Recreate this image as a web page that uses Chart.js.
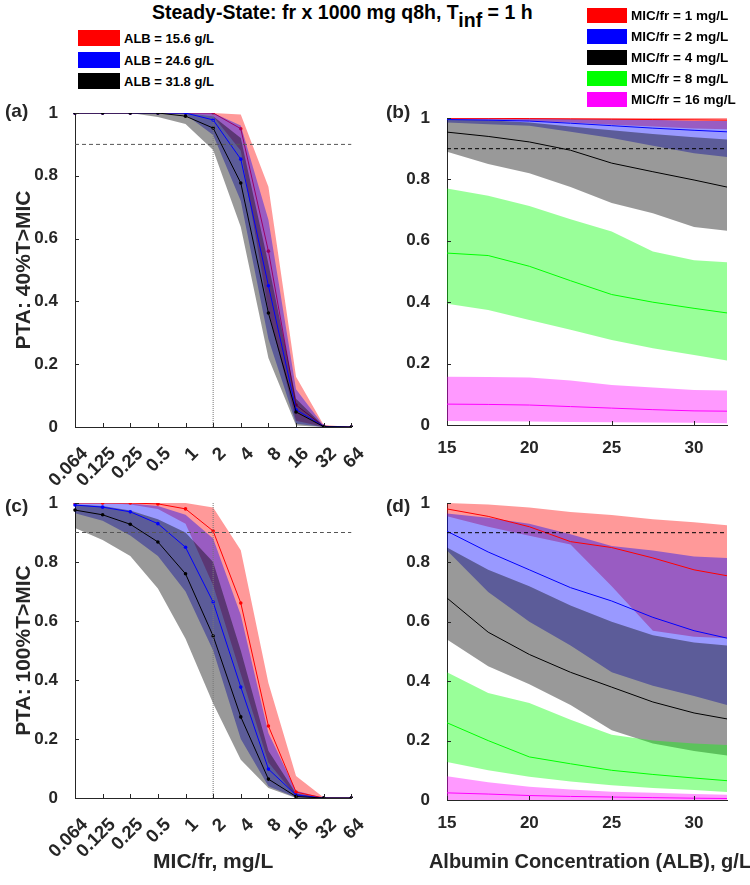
<!DOCTYPE html>
<html>
<head>
<meta charset="utf-8">
<script src="https://cdn.jsdelivr.net/npm/chart.js@4.4.1/dist/chart.umd.min.js"></script>
<style>
  body { margin: 0; width: 750px; height: 885px; background: #fff; position: relative; overflow: hidden;
         font-family: 'Liberation Sans', Arial, sans-serif; font-weight: bold; color: #262626; }
  canvas { position: absolute; }
  .txt { position: absolute; white-space: nowrap; line-height: 1; }
  .box { position: absolute; }
</style>
</head>
<body>
<canvas id="chartA" width="375" height="410" style="left:0;top:90px"></canvas>
<canvas id="chartB" width="375" height="410" style="left:375px;top:90px"></canvas>
<canvas id="chartC" width="375" height="405" style="left:0;top:480px"></canvas>
<canvas id="chartD" width="375" height="405" style="left:375px;top:480px"></canvas>

<div class="txt" style="left:152px;top:3px;font-size:19.5px;color:#000">Steady-State: fr x 1000 mg q8h, T<span style="position:relative;top:8px">inf</span> = 1 h</div>

<div class="box" style="left:78px;top:30px;width:42px;height:16px;background:#ff0000"></div>
<div class="txt" style="left:124px;top:32px;font-size:13px;color:#000">ALB = 15.6 g/L</div>
<div class="box" style="left:78px;top:52px;width:42px;height:16px;background:#0000ff"></div>
<div class="txt" style="left:124px;top:54px;font-size:13px;color:#000">ALB = 24.6 g/L</div>
<div class="box" style="left:78px;top:73px;width:42px;height:16px;background:#000000"></div>
<div class="txt" style="left:124px;top:75px;font-size:13px;color:#000">ALB = 31.8 g/L</div>

<div class="box" style="left:587px;top:8px;width:40px;height:15px;background:#ff0000"></div>
<div class="txt" style="left:631px;top:9px;font-size:13.5px;color:#000">MIC/fr = 1 mg/L</div>
<div class="box" style="left:587px;top:29px;width:40px;height:15px;background:#0000ff"></div>
<div class="txt" style="left:631px;top:30px;font-size:13.5px;color:#000">MIC/fr = 2 mg/L</div>
<div class="box" style="left:587px;top:50px;width:40px;height:15px;background:#000000"></div>
<div class="txt" style="left:631px;top:51px;font-size:13.5px;color:#000">MIC/fr = 4 mg/L</div>
<div class="box" style="left:587px;top:71px;width:40px;height:15px;background:#00ff00"></div>
<div class="txt" style="left:631px;top:72px;font-size:13.5px;color:#000">MIC/fr = 8 mg/L</div>
<div class="box" style="left:587px;top:92px;width:40px;height:15px;background:#ff00ff"></div>
<div class="txt" style="left:631px;top:93px;font-size:13.5px;color:#000">MIC/fr = 16 mg/L</div>

<div class="txt" style="left:5px;top:101px;font-size:19px">(a)</div>
<div class="txt" style="left:386px;top:102px;font-size:19px">(b)</div>
<div class="txt" style="left:5px;top:496px;font-size:19px">(c)</div>
<div class="txt" style="left:386px;top:496px;font-size:19px">(d)</div>

<div class="txt" style="left:590px;top:851px;font-size:20px;transform:translateX(-50%)">Albumin Concentration (ALB), g/L</div>

<script>
// shared axes
const micLabels = ['0.064', '0.125', '0.25', '0.5', '1', '2', '4', '8', '16', '32', '64'];
const albPoints = [15, 17.5, 20, 22.5, 25, 27.5, 30, 32];
const yTicks = [0, 0.2, 0.4, 0.6, 0.8, 1];
const albTicks = [15, 20, 25, 30];
const ptaTarget = 0.9;
const micBreak = '2';

// (a) 40%T>MIC vs MIC/fr, one curve per albumin level
const a15Med = [1, 1, 1, 1, 1, 1, 0.95, 0.56, 0.07, 0.002, 0];
const a15Hi  = [1, 1, 1, 1, 1, 1, 0.995, 0.765, 0.16, 0.006, 0];
const a15Lo  = [1, 1, 1, 1, 1, 0.99, 0.88, 0.37, 0.02, 0, 0];
const a24Med = [1, 1, 1, 1, 1, 0.978, 0.853, 0.45, 0.055, 0.002, 0];
const a24Hi  = [1, 1, 1, 1, 1, 1, 0.96, 0.66, 0.12, 0.004, 0];
const a24Lo  = [1, 1, 1, 1, 0.995, 0.93, 0.72, 0.28, 0.01, 0, 0];
const a31Med = [1, 1, 1, 1, 0.99, 0.952, 0.777, 0.363, 0.048, 0.001, 0];
const a31Hi  = [1, 1, 1, 1, 1, 0.99, 0.92, 0.52, 0.09, 0.003, 0];
const a31Lo  = [1, 1, 1, 0.987, 0.965, 0.882, 0.637, 0.22, 0.005, 0, 0];

// (c) 100%T>MIC vs MIC/fr
const c15Med = [1, 1, 1, 0.997, 0.98, 0.905, 0.661, 0.244, 0.02, 0, 0];
const c15Hi  = [1, 1, 1, 1, 1, 0.985, 0.84, 0.39, 0.075, 0.002, 0];
const c15Lo  = [1, 1, 0.995, 0.98, 0.93, 0.72, 0.42, 0.12, 0.005, 0, 0];
const c24Med = [0.993, 0.986, 0.97, 0.93, 0.85, 0.664, 0.376, 0.098, 0.01, 0, 0];
const c24Hi  = [1, 1, 0.998, 0.99, 0.96, 0.88, 0.62, 0.22, 0.025, 0, 0];
const c24Lo  = [0.965, 0.94, 0.89, 0.82, 0.7, 0.5, 0.2, 0.04, 0.002, 0, 0];
const c31Med = [0.976, 0.96, 0.928, 0.868, 0.76, 0.549, 0.275, 0.064, 0.005, 0, 0];
const c31Hi  = [0.995, 0.99, 0.975, 0.945, 0.9, 0.8, 0.5, 0.16, 0.015, 0, 0];
const c31Lo  = [0.915, 0.875, 0.82, 0.71, 0.54, 0.32, 0.13, 0.034, 0, 0, 0];

// (b) 40%T>MIC vs albumin, one curve per MIC
const b1Med  = [0.999, 0.999, 0.998, 0.997, 0.996, 0.995, 0.994, 0.993];
const b1Hi   = [1, 1, 1, 1, 1, 1, 1, 1];
const b1Lo   = [0.995, 0.993, 0.99, 0.985, 0.978, 0.972, 0.966, 0.963];
const b2Med  = [0.995, 0.993, 0.99, 0.983, 0.975, 0.967, 0.96, 0.955];
const b2Hi   = [0.999, 0.999, 0.998, 0.997, 0.996, 0.994, 0.99, 0.99];
const b2Lo   = [0.985, 0.98, 0.975, 0.955, 0.935, 0.91, 0.885, 0.873];
const b4Med  = [0.954, 0.94, 0.922, 0.895, 0.853, 0.825, 0.798, 0.775];
const b4Hi   = [0.995, 0.993, 0.985, 0.972, 0.96, 0.948, 0.937, 0.93];
const b4Lo   = [0.89, 0.85, 0.82, 0.775, 0.723, 0.69, 0.645, 0.633];
const b8Med  = [0.56, 0.552, 0.517, 0.47, 0.425, 0.4, 0.38, 0.365];
const b8Hi   = [0.77, 0.747, 0.713, 0.67, 0.63, 0.565, 0.537, 0.53];
const b8Lo   = [0.395, 0.375, 0.342, 0.31, 0.277, 0.25, 0.228, 0.21];
const b16Med = [0.068, 0.067, 0.065, 0.06, 0.055, 0.05, 0.046, 0.045];
const b16Hi  = [0.157, 0.156, 0.155, 0.145, 0.13, 0.122, 0.114, 0.112];
const b16Lo  = [0.013, 0.012, 0.011, 0.01, 0.009, 0.008, 0.007, 0.006];

// (d) 100%T>MIC vs albumin
const d1Med  = [0.98, 0.955, 0.92, 0.87, 0.85, 0.815, 0.775, 0.755];
const d1Hi   = [1, 0.995, 0.985, 0.97, 0.96, 0.945, 0.935, 0.925];
const d1Lo   = [0.955, 0.92, 0.89, 0.86, 0.72, 0.57, 0.55, 0.545];
const d2Med  = [0.905, 0.835, 0.775, 0.715, 0.67, 0.615, 0.57, 0.545];
const d2Hi   = [0.965, 0.95, 0.93, 0.895, 0.855, 0.84, 0.82, 0.815];
const d2Lo   = [0.84, 0.7, 0.6, 0.52, 0.43, 0.385, 0.35, 0.32];
const d4Med  = [0.68, 0.565, 0.49, 0.43, 0.38, 0.33, 0.293, 0.273];
const d4Hi   = [0.85, 0.775, 0.72, 0.655, 0.6, 0.555, 0.53, 0.52];
const d4Lo   = [0.54, 0.45, 0.39, 0.32, 0.235, 0.19, 0.165, 0.15];
const d8Med  = [0.26, 0.2, 0.145, 0.122, 0.1, 0.086, 0.074, 0.065];
const d8Hi   = [0.43, 0.36, 0.327, 0.27, 0.22, 0.2, 0.19, 0.185];
const d8Lo   = [0.128, 0.1, 0.078, 0.062, 0.05, 0.04, 0.034, 0.027];
const d16Med = [0.024, 0.02, 0.015, 0.012, 0.01, 0.008, 0.006, 0.005];
const d16Hi  = [0.08, 0.06, 0.045, 0.035, 0.028, 0.024, 0.02, 0.018];
const d16Lo  = [0, 0, 0, 0, 0, 0, 0, 0];

const RED = 'rgb(255,0,0)', BLUE = 'rgb(0,0,255)', BLACK = 'rgb(0,0,0)';
const GREEN = 'rgb(0,255,0)', MAGENTA = 'rgb(255,0,255)';
const AXIS = '#262626';
const FONT = "'Liberation Sans', Arial, sans-serif";

function alpha(c) {
  return c.replace('rgb(', 'rgba(').replace(')', ',0.4)');
}

function toPoints(xs, vals) {
  if (!xs) return vals;
  return vals.map((v, i) => ({ x: xs[i], y: v }));
}

// upper edge fills down to the lower edge that follows it
function band(color, hi, lo, xs, order) {
  return [
    { data: toPoints(xs, hi), borderWidth: 0, borderColor: 'transparent', backgroundColor: alpha(color),
      fill: '+1', pointRadius: 0, order: order },
    { data: toPoints(xs, lo), borderWidth: 0, borderColor: 'transparent', fill: false, pointRadius: 0, order: order },
  ];
}

function median(color, vals, xs, order, markers) {
  return {
    data: toPoints(xs, vals), borderColor: color, borderWidth: 1, fill: false,
    pointRadius: markers ? 1.8 : 0, pointBackgroundColor: color, pointBorderWidth: 0, order: order,
  };
}

function refLines(xs, dashColor) {
  const sets = [];
  if (xs) {
    sets.push({ data: [{ x: xs[0], y: ptaTarget }, { x: xs[xs.length - 1], y: ptaTarget }],
      borderColor: dashColor, borderWidth: 1, borderDash: [4, 3], pointRadius: 0, fill: false, order: 1 });
  } else {
    sets.push({ data: micLabels.map(() => ptaTarget), borderColor: dashColor, borderWidth: 1,
      borderDash: [4, 3], pointRadius: 0, fill: false, order: 1 });
    sets.push({ data: [{ x: micBreak, y: 0 }, { x: micBreak, y: 1 }], borderColor: '#777',
      borderWidth: 1, borderDash: [1, 1], pointRadius: 0, fill: false, order: 1 });
  }
  return sets;
}

const innerTicks = {
  id: 'innerTicks',
  afterDraw(chart) {
    const { ctx, chartArea: ca, scales } = chart;
    ctx.save();
    ctx.strokeStyle = AXIS;
    ctx.lineWidth = 1;
    ctx.beginPath();
    scales.x.ticks.forEach((t, i) => {
      const px = Math.round(scales.x.getPixelForTick(i)) + 0.5;
      ctx.moveTo(px, ca.bottom);
      ctx.lineTo(px, ca.bottom - 4);
    });
    scales.y.ticks.forEach((t, i) => {
      const py = Math.round(scales.y.getPixelForTick(i)) + 0.5;
      ctx.moveTo(ca.left, py);
      ctx.lineTo(ca.left + 4, py);
    });
    ctx.stroke();
    ctx.restore();
  },
};

function makeChart(id, datasets, opt) {
  const tickFont = { family: FONT, weight: 'bold', size: 17 };
  const rotFont = { family: FONT, weight: 'bold', size: 18.5 };
  const titleFont = { family: FONT, weight: 'bold', size: 21 };
  const xScale = opt.category
    ? { type: 'category', labels: micLabels, offset: false,
        ticks: { autoSkip: false, minRotation: 45, maxRotation: 45, labelOffset: 10, padding: 8, color: AXIS, font: rotFont } }
    : { type: 'linear', min: 15, max: 32,
        afterBuildTicks: (s) => { s.ticks = albTicks.map((v) => ({ value: v })); },
        ticks: { maxRotation: 0, padding: 5, color: AXIS, font: tickFont } };
  xScale.grid = { display: false };
  xScale.border = { color: AXIS, width: 1 };
  xScale.afterFit = (s) => { s.height = opt.xHeight; };
  if (opt.xTitle) {
    xScale.title = { display: true, text: opt.xTitle, color: AXIS, font: titleFont, padding: { top: 0, bottom: 10 } };
  }
  const yScale = {
    type: 'linear', min: 0, max: 1,
    afterBuildTicks: (s) => { s.ticks = yTicks.map((v) => ({ value: v })); },
    ticks: { padding: 9, color: AXIS, font: tickFont, callback: (v) => String(+v.toFixed(1)) },
    grid: { display: false },
    border: { color: AXIS, width: 1 },
    afterFit: (s) => { s.width = opt.yWidth; },
  };
  if (opt.yTitle) {
    yScale.title = { display: true, text: opt.yTitle, color: AXIS, font: titleFont, padding: { top: 12, bottom: 0 } };
  }
  return new Chart(document.getElementById(id), {
    type: 'line',
    data: { labels: opt.category ? micLabels : undefined, datasets: datasets },
    options: {
      responsive: false,
      animation: false,
      devicePixelRatio: 1,
      layout: { padding: { left: 0, top: opt.top, right: opt.right, bottom: 0 } },
      elements: { line: { tension: 0 } },
      plugins: { legend: { display: false }, tooltip: { enabled: false } },
      scales: { x: xScale, y: yScale },
    },
    plugins: [innerTicks],
  });
}

makeChart('chartA', [
  ...band(RED, a15Hi, a15Lo, null, 90),
  median(RED, a15Med, null, 85, true),
  ...band(BLUE, a24Hi, a24Lo, null, 80),
  ...band(BLACK, a31Hi, a31Lo, null, 70),
  median(BLUE, a24Med, null, 20, true),
  median(BLACK, a31Med, null, 10, true),
  ...refLines(null, '#555'),
], { category: true, top: 23, right: 21, yWidth: 75, xHeight: 73, yTitle: 'PTA: 40%T>MIC' });

makeChart('chartC', [
  ...band(RED, c15Hi, c15Lo, null, 90),
  ...band(BLUE, c24Hi, c24Lo, null, 80),
  ...band(BLACK, c31Hi, c31Lo, null, 70),
  median(RED, c15Med, null, 30, true),
  median(BLUE, c24Med, null, 20, true),
  median(BLACK, c31Med, null, 10, true),
  ...refLines(null, '#555'),
], { category: true, top: 23, right: 21, yWidth: 75, xHeight: 87, yTitle: 'PTA: 100%T>MIC', xTitle: 'MIC/fr, mg/L' });

makeChart('chartB', [
  ...band(RED, b1Hi, b1Lo, albPoints, 90),
  ...band(BLUE, b2Hi, b2Lo, albPoints, 80),
  ...band(BLACK, b4Hi, b4Lo, albPoints, 70),
  ...band(GREEN, b8Hi, b8Lo, albPoints, 60),
  ...band(MAGENTA, b16Hi, b16Lo, albPoints, 50),
  median(RED, b1Med, albPoints, 40, false),
  median(BLUE, b2Med, albPoints, 35, false),
  median(BLACK, b4Med, albPoints, 30, false),
  median(GREEN, b8Med, albPoints, 25, false),
  median(MAGENTA, b16Med, albPoints, 20, false),
  ...refLines(albPoints, '#000'),
], { category: false, top: 28, right: 23, yWidth: 72, xHeight: 75 });

makeChart('chartD', [
  ...band(RED, d1Hi, d1Lo, albPoints, 90),
  ...band(BLUE, d2Hi, d2Lo, albPoints, 80),
  ...band(BLACK, d4Hi, d4Lo, albPoints, 70),
  ...band(GREEN, d8Hi, d8Lo, albPoints, 60),
  ...band(MAGENTA, d16Hi, d16Lo, albPoints, 50),
  median(RED, d1Med, albPoints, 40, false),
  median(BLUE, d2Med, albPoints, 35, false),
  median(BLACK, d4Med, albPoints, 30, false),
  median(GREEN, d8Med, albPoints, 25, false),
  median(MAGENTA, d16Med, albPoints, 20, false),
  ...refLines(albPoints, '#000'),
], { category: false, top: 23, right: 23, yWidth: 72, xHeight: 85 });
</script>
</body>
</html>
